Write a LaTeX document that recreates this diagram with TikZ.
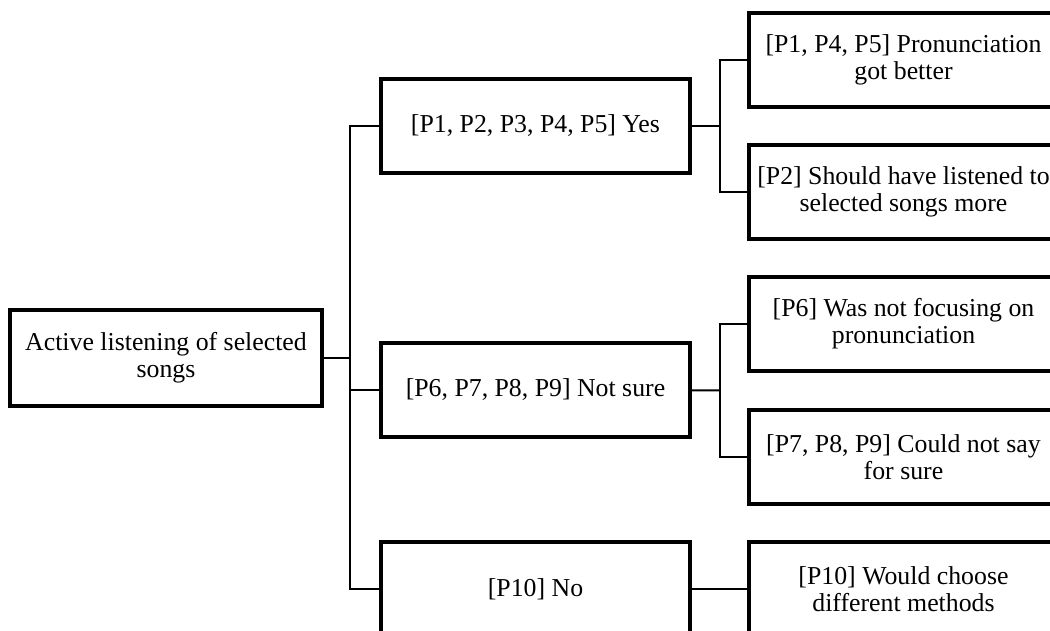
\documentclass[tikz,border=0pt]{standalone}
\usepackage{fontspec}
\setmainfont{Liberation Serif}
\begin{document}
\begin{tikzpicture}[x=1pt,y=-1pt,
    box/.style={draw,line width=3.5pt,minimum width=309pt,minimum height=94pt,
      inner sep=0pt,align=center,font=\fontsize{25.8}{27}\selectfont},
    link/.style={line width=2pt}]
      \path[use as bounding box,clip] (0,0) rectangle (1050,631);
      \draw
        (166,358) node[box,minimum width=312pt,minimum height=96pt] (root){Active listening of selected\\songs}
        (535.5,126) node[box] (yes){[P1, P2, P3, P4, P5] Yes}
        (535.5,390) node[box] (notsure){[P6, P7, P8, P9] Not sure}
        (535.5,589) node[box] (no){[P10] No}
        (903.5,60) node[box] (better){[P1, P4, P5] Pronunciation\\got better}
        (903.5,192) node[box] (more){[P2] Should have listened to\\selected songs more}
        (903.5,324) node[box] (focus){[P6] Was not focusing on\\pronunciation}
        (903.5,457) node[box] (unsure){[P7, P8, P9] Could not say\\for sure}
        (903.5,589) node[box] (methods){[P10] Would choose\\different methods};
      \coordinate (trunk) at (350,358);
      \coordinate (yesfork) at (720,126);
      \coordinate (surefork) at (720,390.5);
      \begin{scope}[link]
        \draw (root) to (trunk);
        \draw (trunk) |- (yes);
        \draw (trunk) |- (notsure);
        \draw (trunk) |- (no);
        \draw (yes) to (yesfork);
        \draw (yesfork) |- (better);
        \draw (yesfork) |- (more);
        \draw (notsure) to (surefork);
        \draw (surefork) |- (focus);
        \draw (surefork) |- (unsure);
        \draw (no) to (methods);
      \end{scope}
    \end{tikzpicture}
\end{document}
